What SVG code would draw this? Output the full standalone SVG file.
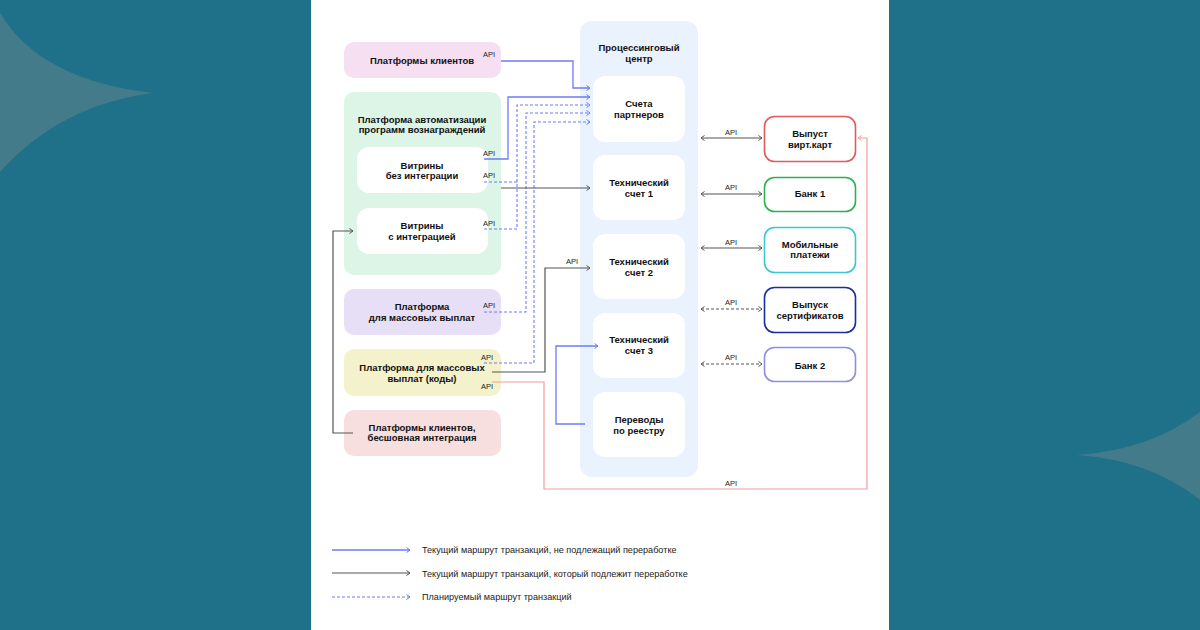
<svg xmlns="http://www.w3.org/2000/svg" width="1200" height="630" viewBox="0 0 1200 630">
<defs>
<style>
.t{font-family:"Liberation Sans",Arial,sans-serif;font-weight:bold;font-size:9.5px;fill:#111;text-anchor:middle}
.api{font-family:"Liberation Sans",Arial,sans-serif;font-size:7.5px;fill:#222;text-anchor:middle}
.lg{font-family:"Liberation Sans",Arial,sans-serif;font-size:9.1px;fill:#222}
.b{fill:none;stroke:#6E7BF7;stroke-width:1.3}
.bd{fill:none;stroke:#6E7BF7;stroke-width:1.1;stroke-dasharray:3 2}
.g{fill:none;stroke:#555;stroke-width:1.2}
.gd{fill:none;stroke:#555;stroke-width:1;stroke-dasharray:3 2}
.r{fill:none;stroke:#F29C9C;stroke-width:1.2}
.inner{fill:#fff}
</style>
<marker id="ab" markerUnits="userSpaceOnUse" markerWidth="7" markerHeight="7" refX="5" refY="3.5" orient="auto-start-reverse"><path d="M1.5,1 L5,3.5 L1.5,6" fill="none" stroke="#6E7BF7" stroke-width="1"/></marker>
<marker id="ag" markerUnits="userSpaceOnUse" markerWidth="7" markerHeight="7" refX="5" refY="3.5" orient="auto-start-reverse"><path d="M1.5,1 L5,3.5 L1.5,6" fill="none" stroke="#555" stroke-width="1"/></marker>
<marker id="ar" markerUnits="userSpaceOnUse" markerWidth="7" markerHeight="7" refX="5" refY="3.5" orient="auto-start-reverse"><path d="M1.5,1 L5,3.5 L1.5,6" fill="none" stroke="#F29C9C" stroke-width="1"/></marker>
</defs>
<rect x="0" y="0" width="1200" height="630" fill="#1F718A"/>
<path d="M0,13 Q40,80 153,93 Q60,105 0,172 Z" fill="#437B8A"/>
<path d="M1200,412 Q1150,450 1077,455 Q1150,460 1200,500 Z" fill="#437B8A"/>
<rect x="311" y="0" width="578" height="630" fill="#fff"/>

<g id="processing">
<rect x="580" y="21" width="118" height="456" rx="12" fill="#EAF2FE"/>
<text class="t" x="639" y="51">Процессинговый</text>
<text class="t" x="639" y="62">центр</text>
</g>
<g id="acc-partners"><rect class="inner" x="593" y="76" width="92" height="66" rx="12"/><text class="t" x="639" y="107">Счета</text><text class="t" x="639" y="118">партнеров</text></g>
<g id="tech1"><rect class="inner" x="593" y="155" width="92" height="65" rx="12"/><text class="t" x="639" y="186">Технический</text><text class="t" x="639" y="197">счет 1</text></g>
<g id="tech2"><rect class="inner" x="593" y="234" width="92" height="65" rx="12"/><text class="t" x="639" y="265">Технический</text><text class="t" x="639" y="276">счет 2</text></g>
<g id="tech3"><rect class="inner" x="593" y="313" width="92" height="65" rx="12"/><text class="t" x="639" y="343">Технический</text><text class="t" x="639" y="354">счет 3</text></g>
<g id="registry"><rect class="inner" x="593" y="392" width="92" height="65" rx="12"/><text class="t" x="639" y="423">Переводы</text><text class="t" x="639" y="434">по реестру</text></g>

<g id="clients"><rect x="344" y="42" width="157" height="36" rx="10" fill="#F5DFF1"/><text class="t" x="422" y="64">Платформы клиентов</text></g>
<g id="automation">
<rect x="344" y="92" width="157" height="183" rx="10" fill="#DDF5E7"/>
<text class="t" x="422" y="123">Платформа автоматизации</text>
<text class="t" x="422" y="133">программ вознаграждений</text>
</g>
<g id="vitr-no"><rect class="inner" x="357" y="147" width="131" height="46" rx="12"/><text class="t" x="422" y="169">Витрины</text><text class="t" x="422" y="179">без интеграции</text></g>
<g id="vitr-int"><rect class="inner" x="357" y="208" width="131" height="46" rx="12"/><text class="t" x="422" y="229">Витрины</text><text class="t" x="422" y="240">с интеграцией</text></g>
<g id="mass"><rect x="344" y="289" width="157" height="46" rx="10" fill="#E7DFF5"/><text class="t" x="422" y="310">Платформа</text><text class="t" x="422" y="321">для массовых выплат</text></g>
<g id="mass-codes"><rect x="344" y="349" width="157" height="47" rx="10" fill="#F3F2CB"/><text class="t" x="422" y="371">Платформа для массовых</text><text class="t" x="422" y="382">выплат (коды)</text></g>
<g id="seamless"><rect x="344" y="410" width="157" height="46" rx="10" fill="#F7DFDF"/><text class="t" x="422" y="431">Платформы клиентов,</text><text class="t" x="422" y="441">бесшовная интеграция</text></g>

<g id="virt"><rect x="764.5" y="116.5" width="91" height="45" rx="10" fill="#fff" stroke="#E25A5A" stroke-width="1.6"/><text class="t" x="810" y="137">Выпуст</text><text class="t" x="810" y="148">вирт.карт</text></g>
<g id="bank1"><rect x="764.5" y="177.5" width="91" height="34" rx="10" fill="#fff" stroke="#2DB14A" stroke-width="1.6"/><text class="t" x="810" y="197">Банк 1</text></g>
<g id="mobile"><rect x="764.5" y="227.5" width="91" height="45" rx="10" fill="#fff" stroke="#3CC6D1" stroke-width="1.6"/><text class="t" x="810" y="248">Мобильные</text><text class="t" x="810" y="258">платежи</text></g>
<g id="certs"><rect x="764.5" y="287.5" width="91" height="45" rx="10" fill="#fff" stroke="#1B2E9E" stroke-width="1.6"/><text class="t" x="810" y="308">Выпуск</text><text class="t" x="810" y="319">сертификатов</text></g>
<g id="bank2"><rect x="764.5" y="347.5" width="91" height="34" rx="10" fill="#fff" stroke="#8C90E2" stroke-width="1.6"/><text class="t" x="810" y="369">Банк 2</text></g>

<g id="connectors">
<path class="b" d="M501,61 H573 V88 H590" marker-end="url(#ab)"/>
<path class="b" d="M484,159 H508 V97 H590" marker-end="url(#ab)"/>
<path class="bd" d="M484,229 H517 V105 H590" marker-end="url(#ab)"/>
<path class="bd" d="M484,182 H517"/>
<path class="bd" d="M484,312 H526 V113 H590" marker-end="url(#ab)"/>
<path class="bd" d="M484,363 H534 V122 H590" marker-end="url(#ab)"/>
<path class="g" d="M501,188 H590" marker-end="url(#ag)"/>
<path class="g" d="M492,372 H545 V268 H590" marker-end="url(#ag)"/>
<path class="g" d="M353,433 H333 V231 H353" marker-end="url(#ag)"/>
<path class="b" d="M585,424 H556 V346 H598" marker-end="url(#ab)"/>
<path class="r" d="M492,382 H544 V489 H867 V138 H858" marker-end="url(#ar)"/>
<path class="g" d="M701,138 H762" marker-start="url(#ag)" marker-end="url(#ag)"/>
<path class="g" d="M701,194 H762" marker-start="url(#ag)" marker-end="url(#ag)"/>
<path class="g" d="M701,248 H762" marker-start="url(#ag)" marker-end="url(#ag)"/>
<path class="gd" d="M701,309 H762" marker-start="url(#ag)" marker-end="url(#ag)"/>
<path class="gd" d="M701,364 H762" marker-start="url(#ag)" marker-end="url(#ag)"/>
<text class="api" x="489" y="57">API</text>
<text class="api" x="489" y="156">API</text>
<text class="api" x="489" y="178">API</text>
<text class="api" x="489" y="226">API</text>
<text class="api" x="489" y="308">API</text>
<text class="api" x="487" y="360">API</text>
<text class="api" x="487" y="389">API</text>
<text class="api" x="572" y="264">API</text>
<text class="api" x="731" y="135">API</text>
<text class="api" x="731" y="190">API</text>
<text class="api" x="731" y="245">API</text>
<text class="api" x="731" y="305">API</text>
<text class="api" x="731" y="360">API</text>
<text class="api" x="731" y="486">API</text>
</g>

<g id="legend">
<path class="b" d="M332,550 H410" marker-end="url(#ab)"/>
<text class="lg" x="422" y="553">Текущий маршрут транзакций, не подлежащий переработке</text>
<path class="g" d="M332,573 H410" marker-end="url(#ag)"/>
<text class="lg" x="422" y="577">Текущий маршрут транзакций, который подлежит переработке</text>
<path class="bd" d="M332,597 H410" marker-end="url(#ab)"/>
<text class="lg" x="422" y="600">Планируемый маршрут транзакций</text>
</g>
</svg>
